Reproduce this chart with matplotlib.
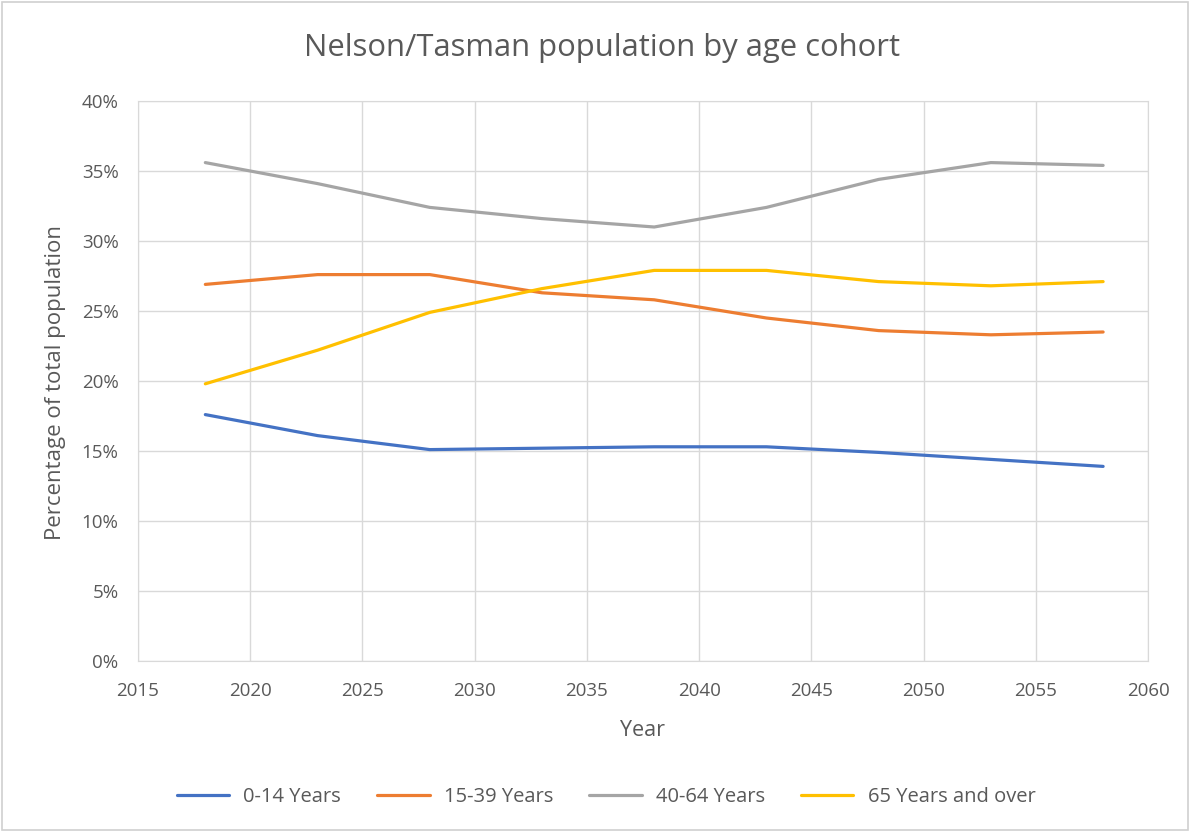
import matplotlib.pyplot as plt
from matplotlib.patches import Rectangle
from matplotlib.ticker import PercentFormatter, MultipleLocator

plt.rcParams['font.family'] = ['Open Sans', 'DejaVu Sans']

# data (percent of total population)
years = [2018, 2023, 2028, 2033, 2038, 2043, 2048, 2053, 2058]
age_0_14 = [17.6, 16.1, 15.1, 15.2, 15.3, 15.3, 14.9, 14.4, 13.9]
age_15_39 = [26.9, 27.6, 27.6, 26.3, 25.8, 24.5, 23.6, 23.3, 23.5]
age_40_64 = [35.6, 34.1, 32.4, 31.6, 31.0, 32.4, 34.4, 35.6, 35.4]
age_65_plus = [19.8, 22.2, 24.9, 26.6, 27.9, 27.9, 27.1, 26.8, 27.1]

labels = ['0-14 Years', '15-39 Years', '40-64 Years', '65 Years and over']
colors = ['#4472C4', '#ED7D31', '#A5A5A5', '#FFC000']
txt = '#595959'

fig = plt.figure(figsize=(11.9, 8.32), dpi=100)
fig.patches.append(Rectangle((0.002, 0.002), 0.996, 0.996, transform=fig.transFigure,
                             fill=False, edgecolor='#D0D0D0', lw=1.2))
ax = fig.add_axes([138/1190, 1 - 661/832, (1148-138)/1190, (661-101)/832])

for series, lab, c in zip([age_0_14, age_15_39, age_40_64, age_65_plus], labels, colors):
    ax.plot(years, series, color=c, lw=2.3, label=lab, solid_capstyle='round')

ax.set_xlim(2015, 2060)
ax.set_ylim(0, 40)
ax.xaxis.set_major_locator(MultipleLocator(5))
ax.yaxis.set_major_locator(MultipleLocator(5))
ax.yaxis.set_major_formatter(PercentFormatter(decimals=0))
ax.grid(True, color='#D9D9D9', lw=1.0)
ax.set_axisbelow(True)
for s in ax.spines.values():
    s.set_color('#D9D9D9')
ax.tick_params(length=0, labelsize=13.5, colors=txt)
ax.tick_params(axis='x', pad=15)
ax.tick_params(axis='y', pad=14)

fig.text(0.506, 1 - 48/832, 'Nelson/Tasman population by age cohort', fontsize=22.3,
         color=txt, ha='center', va='center')
ax.set_xlabel('Year', fontsize=15.5, color=txt)
ax.xaxis.set_label_coords((642-138)/(1148-138), -(720-661)/(661-101))
ax.set_ylabel('Percentage of total population', fontsize=16, color=txt)
ax.yaxis.set_label_coords(-(138-66)/(1148-138), (661-382)/(661-101))

fig.legend(loc='center', bbox_to_anchor=(606/1190, 1 - 797/832), ncol=4, frameon=False,
           fontsize=14.5, handlelength=2.6, columnspacing=1.8, handletextpad=0.7,
           labelcolor=txt)

fig.savefig('out.png', dpi=100, facecolor='white')
